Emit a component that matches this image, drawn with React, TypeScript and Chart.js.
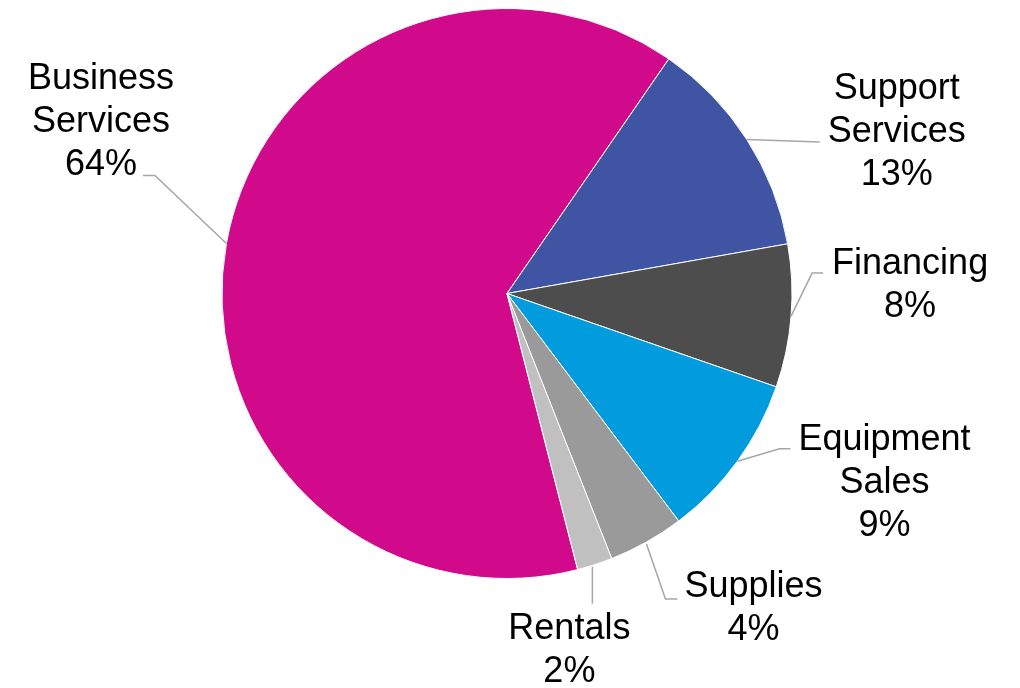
import React, { useEffect, useRef } from "react";
import { Chart, registerables } from "chart.js";

Chart.register(...registerables);

// ---- data ----
const categories: string[][] = [
  ["Business", "Services"],
  ["Support", "Services"],
  ["Financing"],
  ["Equipment", "Sales"],
  ["Supplies"],
  ["Rentals"],
];
const shares: number[] = [63.6, 12.6, 8.1, 9.4, 4.3, 2.0];
const sliceColors: string[] = ["#D00A8B", "#3F55A4", "#4D4D4D", "#009CDE", "#9A9A9A", "#C0C0C0"];

// ---- label layout (offsets from each slice's outer-edge midpoint) ----
type LabelLayout = { start: [number, number]; pts: [number, number][]; tx: number; ty: number };
const LABEL_LAYOUT: LabelLayout[] = [
  { start: [0, 0], pts: [[-71.5, -68], [-83.5, -68]], tx: -125.5, ty: -154 },
  { start: [0, 0], pts: [[73, 2.5]], tx: 150, ty: -40.5 },
  { start: [0, 0], pts: [[21, -43], [32, -43]], tx: 119, ty: -42 },
  { start: [0, 0], pts: [[42, -12.5], [53, -12.5]], tx: 147, ty: -11.5 },
  { start: [0, 2], pts: [[19, 57], [31, 57]], tx: 107, ty: 55 },
  { start: [-2.5, 2], pts: [[-2.5, 39]], tx: -25.5, ty: 74 },
];
const LINE_H = 43;

const labelPlugin = {
  id: "pieLabels",
  afterDatasetsDraw(chart: any) {
    const ctx = chart.ctx as CanvasRenderingContext2D;
    const meta = chart.getDatasetMeta(0);
    const data = chart.data.datasets[0].data as number[];
    meta.data.forEach((arc: any, i: number) => {
      const p = arc.getProps(["x", "y", "startAngle", "endAngle", "outerRadius"], true);
      const mid = (p.startAngle + p.endAngle) / 2;
      const ax = p.x + Math.cos(mid) * p.outerRadius;
      const ay = p.y + Math.sin(mid) * p.outerRadius;
      const L = LABEL_LAYOUT[i];
      ctx.save();
      ctx.strokeStyle = "#A6A6A6";
      ctx.lineWidth = 1.5;
      ctx.beginPath();
      ctx.moveTo(ax + L.start[0], ay + L.start[1]);
      L.pts.forEach(([dx, dy]) => ctx.lineTo(ax + dx, ay + dy));
      ctx.stroke();
      ctx.fillStyle = "#000000";
      ctx.font = '36px "Liberation Sans", Arial, sans-serif';
      ctx.textAlign = "center";
      ctx.textBaseline = "alphabetic";
      const lines = [...categories[i], `${Math.round(data[i])}%`];
      lines.forEach((t, k) => ctx.fillText(t, ax + L.tx, ay + L.ty + k * LINE_H));
      ctx.restore();
    });
  },
};

export default function App() {
  const ref = useRef<HTMLCanvasElement | null>(null);
  useEffect(() => {
    document.body.style.margin = "0";
    const canvas = ref.current!;
    const startDeg = 34.6 - (shares[0] / 100) * 360;
    const chart = new Chart(canvas, {
      type: "pie",
      data: {
        labels: categories.map((c) => c.join(" ")),
        datasets: [
          {
            data: shares,
            backgroundColor: sliceColors,
            borderColor: "#FFFFFF",
            borderWidth: 1,
          },
        ],
      },
      options: {
        animation: false,
        responsive: false,
        devicePixelRatio: 1,
        rotation: startDeg,
        radius: 285,
        layout: { padding: { top: 8, bottom: 109, left: 0, right: 6 } },
        plugins: {
          legend: { display: false },
          tooltip: { enabled: false },
        },
      },
      plugins: [labelPlugin],
    });
    return () => chart.destroy();
  }, []);
  return (
    <div style={{ position: "fixed", left: 0, top: 0, width: 1020, height: 688, background: "#fff" }}>
      <canvas ref={ref} width={1020} height={688} style={{ width: 1020, height: 688, display: "block" }} />
    </div>
  );
}
